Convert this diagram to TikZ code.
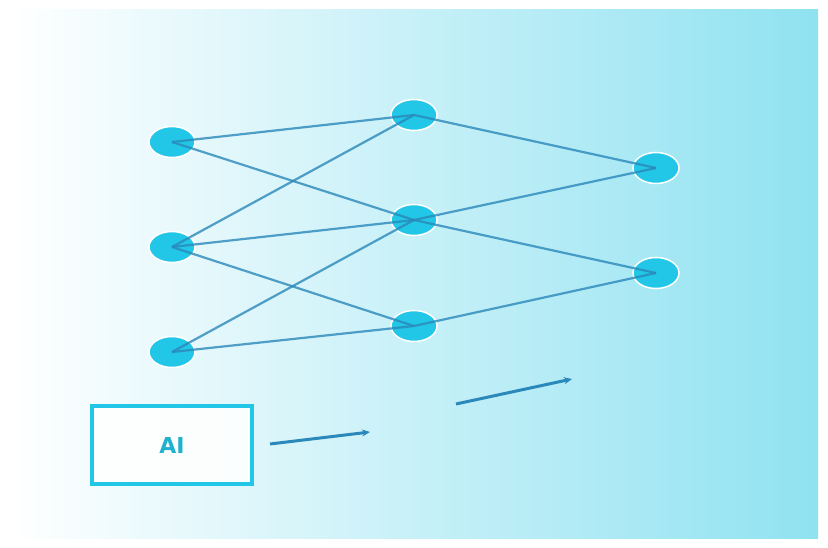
\documentclass[tikz,border=0pt]{standalone}
\usepackage{fontspec}
\setsansfont{DejaVu Sans}
\usetikzlibrary{shapes.geometric,arrows.meta}
\definecolor{neuron}{HTML}{22C6E6}
\definecolor{wire}{HTML}{2A88BA}
\definecolor{bgright}{HTML}{90E2F1}
\begin{document}
\begin{tikzpicture}[x=1pt,y=-1pt,
    unit/.style={ellipse, minimum width=46pt, minimum height=31pt, fill=neuron, draw=white, line width=1.5pt},
    link/.style={wire, opacity=0.8, line width=2.2pt},
    flow/.style={wire, line width=3pt, -{Stealth[length=8pt,width=7pt]}}]
    \useasboundingbox (0,0) rectangle (828,548);
    \shade[left color=white, right color=bgright] (10,10) rectangle (818,538);
    % layers
    \node[unit] (in1) at (172,142) {};
    \node[unit] (in2) at (172,247) {};
    \node[unit] (in3) at (172,352) {};
    \node[unit] (hid1) at (414,115) {};
    \node[unit] (hid2) at (414,220) {};
    \node[unit] (hid3) at (414,326) {};
    \node[unit] (out1) at (656,168) {};
    \node[unit] (out2) at (656,273) {};
    % weights
    \draw[link] (in1.center) -- (hid1.center);
    \draw[link] (in1.center) -- (hid2.center);
    \draw[link] (in2.center) -- (hid1.center);
    \draw[link] (in2.center) -- (hid2.center);
    \draw[link] (in2.center) -- (hid3.center);
    \draw[link] (in3.center) -- (hid2.center);
    \draw[link] (in3.center) -- (hid3.center);
    \draw[link] (hid1.center) -- (out1.center);
    \draw[link] (hid2.center) -- (out1.center);
    \draw[link] (hid2.center) -- (out2.center);
    \draw[link] (hid3.center) -- (out2.center);
    % label box
    \node[draw=neuron, line width=3.5pt, fill=white, fill opacity=0.9, text opacity=1,
          minimum width=160pt, minimum height=78pt, font=\sffamily\bfseries\fontsize{22}{24}\selectfont,
          text=neuron!90!black] (ai) at (172,445) {AI};
    \coordinate (a1s) at (270,444);
    \coordinate (a1e) at (370,432);
    \coordinate (a2s) at (456,404);
    \coordinate (a2e) at (572,379);
    \draw[flow] (a1s) -- (a1e);
    \draw[flow] (a2s) -- (a2e);
\end{tikzpicture}
\end{document}
